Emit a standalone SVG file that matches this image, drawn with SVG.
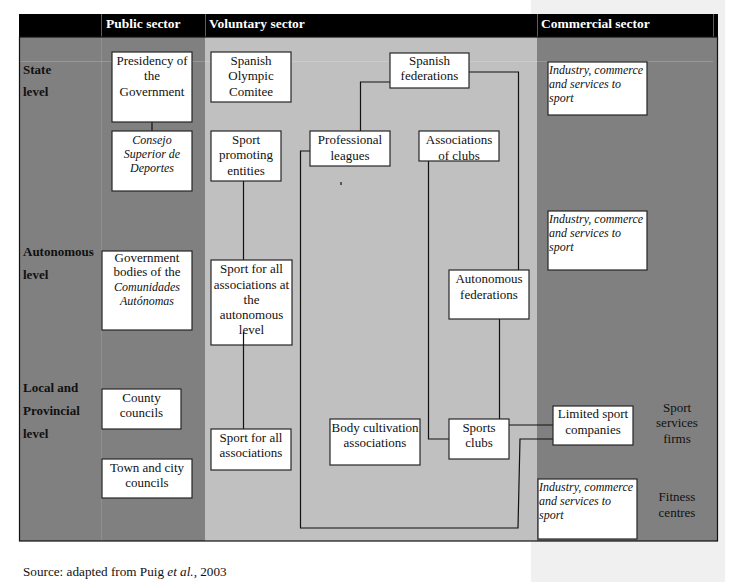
<svg xmlns="http://www.w3.org/2000/svg" width="733" height="582" viewBox="0 0 733 582">
<style>
.bg{fill:#ffffff}
.strip{fill:#f0f0f0}
.dark{fill:#808080}
.light{fill:#c0c0c0}
.box{fill:#ffffff;stroke:#262626;stroke-width:1.2}
.t{font-family:"Liberation Serif","Times New Roman","DejaVu Serif",serif;font-size:13px;fill:#111;text-anchor:middle}
.i{font-family:"Liberation Serif","Times New Roman","DejaVu Serif",serif;font-size:12px;font-style:italic;fill:#111}
.ic{text-anchor:middle}
.hd{font-family:"Liberation Serif","Times New Roman","DejaVu Serif",serif;font-size:13.5px;font-weight:bold;fill:#ffffff}
.lv{font-family:"Liberation Serif","Times New Roman","DejaVu Serif",serif;font-size:13px;font-weight:bold;fill:#111}
.src{font-family:"Liberation Serif","Times New Roman","DejaVu Serif",serif;font-size:13.2px;fill:#111}
.c{fill:none;stroke:#111;stroke-width:1.2}
.sep{stroke:#9a9a9a;stroke-width:1}
</style>
<rect class="bg" x="0" y="0" width="733" height="582"/>
<rect class="strip" x="531" y="0" width="194" height="582"/>

<g id="background">
<rect x="19" y="14" width="699" height="23" fill="#000"/>
<rect class="dark" x="19" y="37" width="186" height="504"/>
<rect class="light" x="205" y="37" width="332" height="504"/>
<rect class="dark" x="537" y="37" width="181" height="504"/>
<line class="sep" x1="101.5" y1="14" x2="101.5" y2="541" stroke-opacity="0.6"/>
<line class="sep" x1="205.5" y1="14" x2="205.5" y2="37" stroke-opacity="0.6"/>
<line class="sep" x1="537.5" y1="14" x2="537.5" y2="37" stroke-opacity="0.6"/>
<line class="sep" x1="713.5" y1="14" x2="713.5" y2="37" stroke-opacity="0.6"/>
<line x1="19" y1="61.5" x2="713" y2="61.5" stroke="#ffffff" stroke-opacity="0.18"/>
<rect x="19.5" y="37" width="698" height="504" fill="none" stroke="#111" stroke-width="1.2"/>
</g>

<g id="headers">
<text class="hd" x="106" y="28">Public sector</text>
<text class="hd" x="209" y="28">Voluntary sector</text>
<text class="hd" x="541" y="28">Commercial sector</text>
</g>

<g id="levels">
<text class="lv" x="23" y="74">State</text>
<text class="lv" x="23" y="96">level</text>
<text class="lv" x="23" y="256">Autonomous</text>
<text class="lv" x="23" y="279">level</text>
<text class="lv" x="23" y="392">Local and</text>
<text class="lv" x="23" y="415">Provincial</text>
<text class="lv" x="23" y="438">level</text>
</g>

<g id="connectors">
<path class="c" d="M152,122 V131"/>
<path class="c" d="M243.5,181 V260"/>
<path class="c" d="M243.5,332 V429"/>
<path class="c" d="M310,151 H300.5 V528 H518 L520,439 H553"/>
<path class="c" d="M509,425 H553"/>
<path class="c" d="M360.5,131 V82 H390"/>
<path class="c" d="M469,72 H518.5 V270"/>
<path class="c" d="M499.5,319 V419"/>
<path class="c" d="M428.5,161 V439 H449"/>
<line x1="341" y1="182" x2="341" y2="185" stroke="#111" stroke-width="1.2"/>
</g>

<g id="presidency">
<rect class="box" x="112" y="52" width="80" height="70"/>
<text class="t" x="152" y="65">Presidency  of</text>
<text class="t" x="152" y="80">the</text>
<text class="t" x="152" y="96">Government</text>
</g>
<g id="consejo">
<rect class="box" x="112" y="131" width="80" height="60"/>
<text class="i ic" x="152" y="144">Consejo</text>
<text class="i ic" x="152" y="158">Superior de</text>
<text class="i ic" x="152" y="172">Deportes</text>
</g>
<g id="olympic">
<rect class="box" x="211" y="52" width="80" height="50"/>
<text class="t" x="251" y="65">Spanish</text>
<text class="t" x="251" y="80">Olympic</text>
<text class="t" x="251" y="96">Comitee</text>
</g>
<g id="promoting">
<rect class="box" x="211" y="131" width="70" height="50"/>
<text class="t" x="246" y="144">Sport</text>
<text class="t" x="246" y="159">promoting</text>
<text class="t" x="246" y="175">entities</text>
</g>
<g id="leagues">
<rect class="box" x="310" y="131" width="80" height="35"/>
<text class="t" x="350" y="144">Professional</text>
<text class="t" x="350" y="160">leagues</text>
</g>
<g id="federations">
<rect class="box" x="390" y="53" width="79" height="35"/>
<text class="t" x="429.5" y="65">Spanish</text>
<text class="t" x="429.5" y="80">federations</text>
</g>
<g id="assoc-clubs">
<rect class="box" x="419" y="131" width="80" height="30"/>
<text class="t" x="459" y="144">Associations</text>
<text class="t" x="459" y="160">of clubs</text>
</g>
<g id="industry-state">
<rect class="box" x="548" y="62" width="99" height="53"/>
<text class="i" x="549" y="74">Industry, commerce</text>
<text class="i" x="549" y="88">and services to</text>
<text class="i" x="549" y="102">sport</text>
</g>
<g id="industry-auto">
<rect class="box" x="548" y="211" width="99" height="59"/>
<text class="i" x="549" y="223">Industry, commerce</text>
<text class="i" x="549" y="237">and services to</text>
<text class="i" x="549" y="251">sport</text>
</g>
<g id="auto-federations">
<rect class="box" x="449" y="270" width="80" height="49"/>
<text class="t" x="489" y="283">Autonomous</text>
<text class="t" x="489" y="299">federations</text>
</g>
<g id="gov-bodies">
<rect class="box" x="102" y="251" width="90" height="79"/>
<text class="t" x="147" y="262" font-size="12">Government</text>
<text class="t" x="147" y="276" font-size="12">bodies of the</text>
<text class="i ic" x="147" y="291">Comunidades</text>
<text class="i ic" x="147" y="305">Autónomas</text>
</g>
<g id="sfa-auto">
<rect class="box" x="211" y="260" width="81" height="85"/>
<text class="t" x="251.5" y="273">Sport for all</text>
<text class="t" x="251.5" y="289">associations at</text>
<text class="t" x="251.5" y="304">the</text>
<text class="t" x="251.5" y="319">autonomous</text>
<text class="t" x="251.5" y="334">level</text>
</g>
<path class="c" d="M243.5,332 V345"/>
<g id="county">
<rect class="box" x="102" y="389" width="79" height="40"/>
<text class="t" x="141.5" y="402">County</text>
<text class="t" x="141.5" y="417">councils</text>
</g>
<g id="town">
<rect class="box" x="102" y="459" width="90" height="39"/>
<text class="t" x="147" y="472">Town and city</text>
<text class="t" x="147" y="487">councils</text>
</g>
<g id="sfa">
<rect class="box" x="211" y="429" width="80" height="41"/>
<text class="t" x="251" y="442">Sport for all</text>
<text class="t" x="251" y="457">associations</text>
</g>
<g id="body-cultivation">
<rect class="box" x="330" y="419" width="90" height="46"/>
<text class="t" x="375" y="432">Body cultivation</text>
<text class="t" x="375" y="447">associations</text>
</g>
<g id="sports-clubs">
<rect class="box" x="449" y="419" width="60" height="40"/>
<text class="t" x="479" y="432">Sports</text>
<text class="t" x="479" y="447">clubs</text>
</g>
<g id="limited">
<rect class="box" x="553" y="406" width="80" height="39"/>
<text class="t" x="593" y="418">Limited sport</text>
<text class="t" x="593" y="434">companies</text>
</g>
<g id="industry-local">
<rect class="box" x="538" y="479" width="99" height="60"/>
<text class="i" x="539" y="491">Industry, commerce</text>
<text class="i" x="539" y="505">and services to</text>
<text class="i" x="539" y="519">sport</text>
</g>
<g id="side-labels">
<text class="t" x="677" y="412" font-size="12.5">Sport</text>
<text class="t" x="677" y="427" font-size="12.5">services</text>
<text class="t" x="677" y="443" font-size="12.5">firms</text>
<text class="t" x="677" y="501" font-size="12.5">Fitness</text>
<text class="t" x="677" y="517" font-size="12.5">centres</text>
</g>
<text class="src" x="23" y="576">Source: adapted from Puig <tspan font-style="italic">et al.</tspan>, 2003</text>
</svg>
